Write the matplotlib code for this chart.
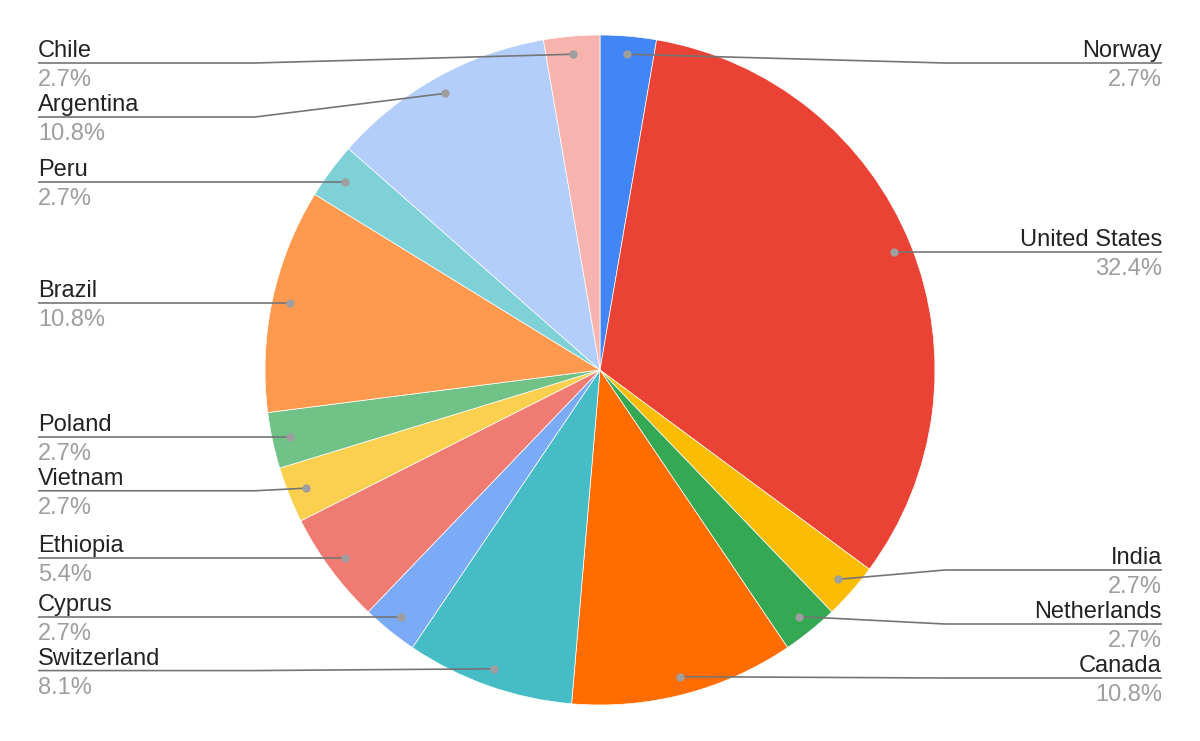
import numpy as np
import matplotlib
matplotlib.use("Agg")
import matplotlib.pyplot as plt

# data: respondents per country, clockwise from 12 o'clock
countries = ["Norway", "United States", "India", "Netherlands", "Canada",
             "Switzerland", "Cyprus", "Ethiopia", "Vietnam", "Poland",
             "Brazil", "Peru", "Argentina", "Chile"]
counts = [1, 12, 1, 1, 4, 3, 1, 2, 1, 1, 4, 1, 4, 1]
colors = ["#4285F4", "#EA4335", "#FBBC04", "#34A853", "#FF6D01",
          "#46BDC6", "#7BAAF7", "#F07B72", "#FCD04F", "#71C287",
          "#FF994D", "#7ED1D7", "#B3CEFB", "#F7B4AE"]

W, H = 1200, 741
cx, cy, R = 600, H - 370, 335

plt.rcParams["font.family"] = ["Liberation Sans", "DejaVu Sans"]

fig = plt.figure(figsize=(W / 100, H / 100), dpi=100)
ax = fig.add_axes([0, 0, 1, 1])

wedges, _ = ax.pie(counts, colors=colors, startangle=90, counterclock=False,
                   center=(cx, cy), radius=R,
                   wedgeprops=dict(edgecolor="white", linewidth=0.5))
ax.set_xlim(0, W)
ax.set_ylim(0, H)
ax.set_aspect("equal")
ax.axis("off")

total = sum(counts)

# anchor dots at the middle of each wedge
anchors = []
for w in wedges:
    mid = np.deg2rad((w.theta1 + w.theta2) / 2)
    anchors.append((cx + 0.946 * R * np.cos(mid), cy + 0.946 * R * np.sin(mid)))


def spread(idx, top=H - 63, bottom=H - 678, gap=54):
    # label line heights, pushed apart so that the text does not overlap
    idx = sorted(idx, key=lambda i: -anchors[i][1])
    ys = [anchors[i][1] for i in idx]
    for k in range(len(ys)):
        ys[k] = min(ys[k], top if k == 0 else ys[k - 1] - gap)
    for k in range(len(ys) - 1, -1, -1):
        ys[k] = max(ys[k], bottom if k == len(ys) - 1 else ys[k + 1] + gap)
    return dict(zip(idx, ys))


right = [i for i, (x, y) in enumerate(anchors) if x >= cx]
left = [i for i, (x, y) in enumerate(anchors) if x < cx]
label_y = {**spread(right), **spread(left)}

for i, name in enumerate(countries):
    ax_, ay = anchors[i]
    ly = label_y[i]
    if i in right:
        elbow, edge, ha = 945, 1162, "right"
    else:
        elbow, edge, ha = 255, 38, "left"
    ax.plot([ax_, elbow, edge], [ay, ly, ly], color="#757575", lw=1.2,
            solid_capstyle="butt", zorder=3)
    ax.plot(ax_, ay, "o", color="#9E9E9E", ms=6, mec="none", zorder=4)
    ax.text(edge, ly + 6, name, ha=ha, va="baseline", fontsize=17,
            color="#222222")
    ax.text(edge, ly - 23, f"{100 * counts[i] / total:.1f}%", ha=ha,
            va="baseline", fontsize=17, color="#9E9E9E")

fig.savefig("out.png", dpi=100, facecolor="white")
